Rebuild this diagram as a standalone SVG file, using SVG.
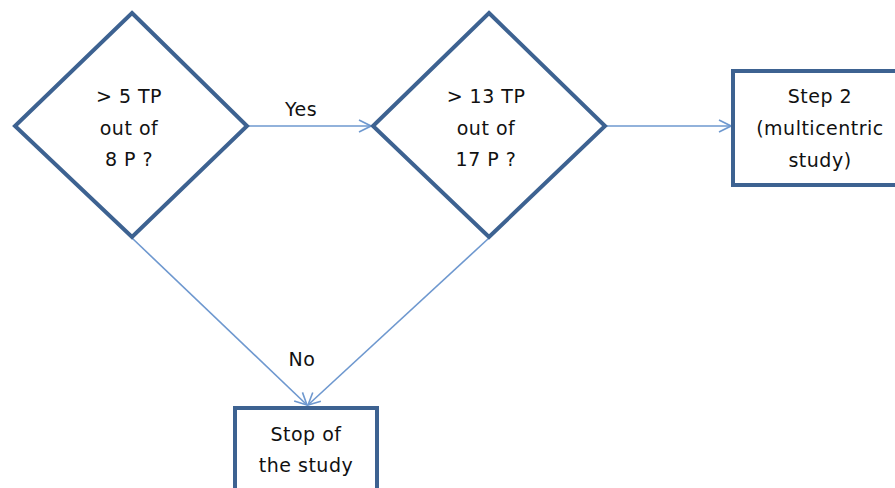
<svg xmlns="http://www.w3.org/2000/svg" width="895" height="488" viewBox="0 0 895 488">
<style>
.shape{fill:#ffffff;stroke:#3d6291;stroke-width:4;stroke-linejoin:miter}
.conn{fill:none;stroke:#6e98cf;stroke-width:1.6}
text{font-family:"DejaVu Sans","Liberation Sans",sans-serif;font-size:19px;fill:#111111;text-anchor:middle;letter-spacing:0.5px}
</style>
<defs>
<marker id="arr" viewBox="0 0 14 14" refX="13" refY="7" markerWidth="14" markerHeight="14" markerUnits="userSpaceOnUse" orient="auto">
<path d="M1,1 L13,7 L1,13" fill="none" stroke="#6e98cf" stroke-width="1.6"/>
</marker>
</defs>
<rect width="895" height="488" fill="#ffffff"/>
<g id="connectors">
<line class="conn" x1="248" y1="126" x2="371" y2="126" marker-end="url(#arr)"/>
<line class="conn" x1="607" y1="126" x2="731" y2="126" marker-end="url(#arr)"/>
<line class="conn" x1="132" y1="238" x2="307" y2="405" marker-end="url(#arr)"/>
<line class="conn" x1="489" y1="238" x2="308" y2="405" marker-end="url(#arr)"/>
<text x="301" y="116">Yes</text>
<text x="302" y="366">No</text>
</g>
<g id="decision1">
<polygon class="shape" points="132,13 247,126 132,237 15,126"/>
<text x="129" y="103">&gt; 5 TP</text>
<text x="129" y="135">out of</text>
<text x="129" y="166">8 P ?</text>
</g>
<g id="decision2">
<polygon class="shape" points="489,13 605,126 489,237 373,126"/>
<text x="486" y="103">&gt; 13 TP</text>
<text x="486" y="135">out of</text>
<text x="486" y="166">17 P ?</text>
</g>
<g id="step2">
<rect class="shape" x="733" y="71" width="180" height="114"/>
<text x="820" y="103">Step 2</text>
<text x="820" y="135">(multicentric</text>
<text x="820" y="167">study)</text>
</g>
<g id="stop">
<rect class="shape" x="235" y="408" width="142" height="100"/>
<text x="306" y="441">Stop of</text>
<text x="306" y="472">the study</text>
</g>
</svg>
